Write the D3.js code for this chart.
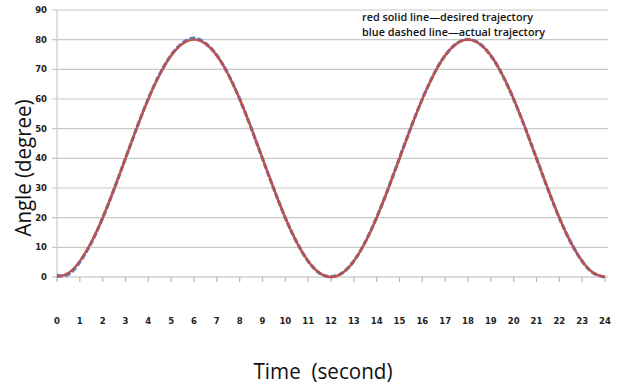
<!DOCTYPE html>
<html><head><meta charset="utf-8">
<script src="https://cdn.jsdelivr.net/npm/d3@7"></script>
<style>body{margin:0;background:#fff}svg{display:block}</style>
</head><body><svg id="c" width="619" height="386"></svg>
<script>
const timeValues = [0,0.5,1,1.5,2,2.5,3,3.5,4,4.5,5,5.5,6,6.5,7,7.5,8,8.5,9,9.5,10,10.5,11,11.5,12,12.5,13,13.5,14,14.5,15,15.5,16,16.5,17,17.5,18,18.5,19,19.5,20,20.5,21,21.5,22,22.5,23,23.5,24];
const desiredAngle = [0,1.36,5.36,11.72,20,29.65,40,50.35,60,68.28,74.64,78.64,80,78.64,74.64,68.28,60,50.35,40,29.65,20,11.72,5.36,1.36,0,1.36,5.36,11.72,20,29.65,40,50.35,60,68.28,74.64,78.64,80,78.64,74.64,68.28,60,50.35,40,29.65,20,11.72,5.36,1.36,0];
const actualAngle = [0.6,0.9,5.1,11.5,19.9,29.6,40.0,50.4,60.1,68.4,74.8,78.9,80.5,78.8,74.7,68.3,60.0,50.3,39.9,29.6,19.9,11.7,5.3,1.3,0.1,1.4,5.4,11.8,20.1,29.7,40.1,50.4,60.0,68.3,74.7,78.7,80.1,78.7,74.6,68.2,59.9,50.3,40.0,29.6,19.9,11.7,5.3,1.3,0];
const xTicks = d3.range(0,25,1);
const yTicks = [0,10,20,30,40,50,60,70,80,90];
const legendLines = ["red solid line\u2014desired trajectory","blue dashed line\u2014actual trajectory"];

const svg = d3.select("#c");
const x = d3.scaleLinear().domain([0,24]).range([57,605]);
const y = d3.scaleLinear().domain([0,90]).range([277,10]);

svg.append("g").selectAll("line").data(yTicks.filter(d=>d>0)).join("line")
  .attr("x1",52).attr("x2",608).attr("y1",d=>y(d)).attr("y2",d=>y(d))
  .attr("stroke","#c8c8c8").attr("stroke-width",1.2);
svg.append("line").attr("x1",x(0)).attr("x2",x(0)).attr("y1",y(90)).attr("y2",y(0))
  .attr("stroke","#c8c8c8").attr("stroke-width",1.2);
svg.append("line").attr("x1",52).attr("x2",608).attr("y1",y(0)).attr("y2",y(0))
  .attr("stroke","#b8b8b8").attr("stroke-width",1.2);
svg.append("g").selectAll("line").data(xTicks).join("line")
  .attr("x1",d=>x(d)).attr("x2",d=>x(d)).attr("y1",y(0)).attr("y2",y(0)+5)
  .attr("stroke","#b8b8b8").attr("stroke-width",1.2);
svg.append("g").selectAll("text").data(yTicks).join("text")
  .attr("x",47).attr("y",d=>y(d)).attr("dy","0.35em").attr("text-anchor","end")
  .attr("font-family","'DejaVu Sans', sans-serif").attr("font-weight","bold").attr("font-size",8.5)
  .attr("fill","#222").text(d=>d);
svg.append("g").selectAll("text").data(xTicks).join("text")
  .attr("x",d=>x(d)).attr("y",321).attr("dy","0.35em").attr("text-anchor","middle")
  .attr("font-family","'DejaVu Sans', sans-serif").attr("font-weight","bold").attr("font-size",8.5)
  .attr("fill","#222").text(d=>d);

const pts = (arr)=>timeValues.map((t,i)=>[t,arr[i]]);
const line = d3.line().x(d=>x(d[0])).y(d=>y(d[1])).curve(d3.curveNatural);
svg.append("path").datum(pts(actualAngle)).attr("d",line)
  .attr("fill","none").attr("stroke","#4F81BD").attr("stroke-width",3.2)
  .attr("stroke-dasharray","6,2");
svg.append("path").datum(pts(desiredAngle)).attr("d",line)
  .attr("fill","none").attr("stroke","#C0504D").attr("stroke-width",2.4);

const legendLen = [171,183];
svg.append("g").selectAll("text").data(legendLines).join("text")
  .attr("x",362).attr("y",(d,i)=>17+i*15).attr("dy","0.35em")
  .attr("font-family","'Open Sans', sans-serif").attr("font-size",11).attr("font-weight",600)
  .attr("textLength",(d,i)=>legendLen[i]).attr("lengthAdjust","spacingAndGlyphs")
  .attr("fill","#111").text(d=>d);

svg.append("text").attr("transform","translate(31,168) rotate(-90)").attr("text-anchor","middle")
  .attr("font-family","'Open Sans', sans-serif").attr("font-size",22).attr("fill","#111")
  .attr("textLength",137).attr("lengthAdjust","spacingAndGlyphs")
  .text("Angle (degree)");
svg.append("text").attr("x",323).attr("y",379).attr("text-anchor","middle")
  .attr("font-family","'Open Sans', sans-serif").attr("font-size",21).attr("fill","#111")
  .attr("textLength",139).attr("lengthAdjust","spacingAndGlyphs")
  .style("white-space","pre")
  .text("Time  (second)");
</script></body></html>
